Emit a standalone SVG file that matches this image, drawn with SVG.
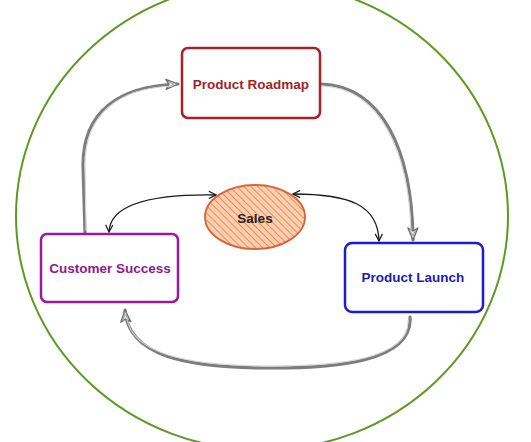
<svg xmlns="http://www.w3.org/2000/svg" width="531" height="442" viewBox="0 0 531 442">
<style>
.lbl{font-family:"Liberation Sans",Arial,sans-serif;font-weight:bold;font-size:13.5px;text-anchor:middle;dominant-baseline:central}
.flow{fill:none;stroke:#7d7d7d;stroke-width:3.2;stroke-linecap:round}
.flowin{fill:none;stroke:#d6d6d6;stroke-width:1.1;stroke-linecap:round}
.link{fill:none;stroke:#1a1a1a;stroke-width:1.3}
</style>
<defs>
<pattern id="hatch" width="5" height="5" patternUnits="userSpaceOnUse" patternTransform="rotate(-45)">
<rect width="5" height="5" fill="#fbd0b2"/>
<line x1="0" y1="0" x2="0" y2="5" stroke="#f08a52" stroke-width="2"/>
</pattern>
<marker id="hollow" viewBox="0 0 14 12" refX="13" refY="6" markerWidth="14" markerHeight="12" markerUnits="userSpaceOnUse" orient="auto">
<path d="M1,1 L13,6 L1,11 L4,6 Z" fill="#e6e6e6" stroke="#6e6e6e" stroke-width="1.3" stroke-linejoin="round"/>
<path d="M3,3 L9,6 M3,9 L8,6.5" stroke="#8a8a8a" stroke-width="0.8"/>
</marker>
<marker id="tip" viewBox="0 0 10 10" refX="9" refY="5" markerWidth="9" markerHeight="9" markerUnits="userSpaceOnUse" orient="auto-start-reverse">
<path d="M1,1 L9,5 L1,9" fill="none" stroke="#1a1a1a" stroke-width="1.4"/>
</marker>
</defs>
<rect width="531" height="442" fill="#ffffff"/>
<ellipse id="boundary" cx="262" cy="216" rx="246" ry="234" fill="none" stroke="#5c9a22" stroke-width="2"/>
<g id="connectors">
<path class="flow" d="M85,233 L83,165 C83,112 118,86 178,84" marker-end="url(#hollow)"/>
<path class="flowin" d="M86,230 L85,165 C85,114 119,88 172,86"/>
<path class="flow" d="M321,84 C382,86 412,150 413,240" marker-end="url(#hollow)"/>
<path class="flowin" d="M323,86 C380,89 409,152 411,232"/>
<path class="flow" d="M410,317 C413,362 335,368 272,368 C185,368 128,356 125,310" marker-end="url(#hollow)"/>
<path class="flowin" d="M408,320 C410,360 335,366 272,366 C188,366 132,354 127,318"/>
<path class="link" d="M216,195 C150,194 110,205 109,232" marker-start="url(#tip)" marker-end="url(#tip)"/>
<path class="link" d="M293,194 C350,194 378,205 379,241" marker-start="url(#tip)" marker-end="url(#tip)"/>
</g>
<g id="product-roadmap">
<rect x="182" y="48" width="138" height="70" rx="6" fill="#ffffff" stroke="#a8202a" stroke-width="2.5"/>
<text class="lbl" x="251" y="84" fill="#a0242a">Product Roadmap</text>
</g>
<g id="sales">
<ellipse cx="255" cy="217" rx="50" ry="32" fill="url(#hatch)" stroke="#d8643a" stroke-width="1.8"/>
<text class="lbl" x="255" y="218" fill="#222222">Sales</text>
</g>
<g id="customer-success">
<rect x="41" y="234" width="137" height="68" rx="6" fill="#ffffff" stroke="#9c189c" stroke-width="2.5"/>
<text class="lbl" x="110" y="268" fill="#8b1a8b">Customer Success</text>
</g>
<g id="product-launch">
<rect x="345" y="243" width="138" height="69" rx="7" fill="#ffffff" stroke="#1c1ccc" stroke-width="2.5"/>
<text class="lbl" x="413" y="277" fill="#1b1bb5">Product Launch</text>
</g>
</svg>
